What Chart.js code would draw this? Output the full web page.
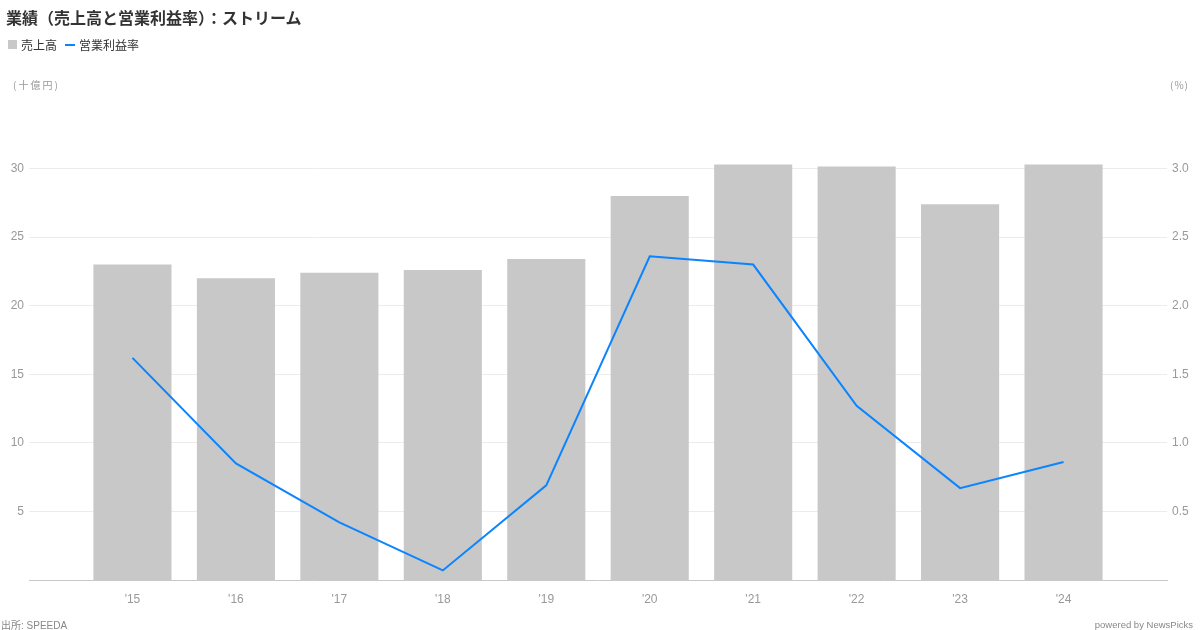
<!DOCTYPE html>
<html>
<head>
<meta charset="utf-8">
<script src="https://cdn.jsdelivr.net/npm/chart.js@4"></script>
<style>
  body { margin: 0; background: #fff; font-family: 'Noto Sans CJK JP', 'Noto Sans', sans-serif; }
  #wrap { position: relative; width: 1200px; height: 630px; overflow: hidden; }
  #chartBox { position: absolute; left: 0; top: 0; width: 1200px; height: 630px; }
  .txt { position: absolute; white-space: nowrap; }
  #title { left: 6px; top: 5px; font-size: 16px; font-weight: bold; color: #333; }
  #legend { left: 8px; top: 36px; font-size: 12px; color: #333; display: flex; align-items: center; }
  .sw-bar { display: inline-block; width: 9px; height: 9px; background: #c8c8c8; margin-right: 4px; }
  .sw-line { display: inline-block; width: 10px; height: 2px; background: #0a84ff; margin: 0 4px 0 8px; }
  .unit { top: 77px; font-size: 10px; color: #999; letter-spacing: 2px; }
  .foot { top: 617px; font-size: 10px; color: #888; font-family: 'Liberation Sans', 'Noto Sans CJK JP', sans-serif; }
</style>
</head>
<body>
<div id="wrap">
  <div id="chartBox"><canvas id="chart"></canvas></div>
  <div class="txt" id="title">業績（売上高と営業利益率）：ストリーム</div>
  <div class="txt" id="legend"><span class="sw-bar"></span>売上高<span class="sw-line"></span>営業利益率</div>
  <div class="txt unit" style="left:13px;">(十億円)</div>
  <div class="txt unit" style="left:1170px; letter-spacing:1px;">(%)</div>
  <div class="txt foot" style="left:1px;">出所: SPEEDA</div>
  <div class="txt foot" style="right:7px; top:619px; font-size:9.5px;">powered by NewsPicks</div>
</div>
<script>
const years = ["'15", "'16", "'17", "'18", "'19", "'20", "'21", "'22", "'23", "'24"];
const sales = [23.0, 22.0, 22.4, 22.6, 23.4, 28.0, 30.3, 30.15, 27.4, 30.3];
const margin = [1.62, 0.85, 0.42, 0.07, 0.69, 2.36, 2.30, 1.27, 0.67, 0.86];
const leftTicks = [5, 10, 15, 20, 25, 30];
const rightTicks = [0.5, 1.0, 1.5, 2.0, 2.5, 3.0];

// empty slot on each side so the bars sit inside like the original
const labels = [''].concat(years, ['']);
const pad = arr => [null].concat(arr, [null]);

Chart.defaults.font.family = "'Liberation Sans', 'Noto Sans', sans-serif";
Chart.defaults.color = '#999';

const ctx = document.getElementById('chart').getContext('2d');
new Chart(ctx, {
    data: {
        labels: labels,
        datasets: [
            {
                type: 'line',
                label: '営業利益率',
                data: pad(margin),
                yAxisID: 'y1',
                borderColor: '#0a84ff',
                borderWidth: 2,
                pointRadius: 0,
                tension: 0,
                order: 0
            },
            {
                type: 'bar',
                label: '売上高',
                data: pad(sales),
                yAxisID: 'y',
                backgroundColor: '#c8c8c8',
                categoryPercentage: 0.755,
                barPercentage: 1.0,
                order: 1
            }
        ]
    },
    options: {
        responsive: true,
        maintainAspectRatio: false,
        animation: false,
        layout: { padding: { top: 100, left: 0, right: 0, bottom: 0 } },
        plugins: {
            legend: { display: false },
            tooltip: { enabled: false }
        },
        scales: {
            x: {
                offset: false,
                grid: { display: false, drawTicks: false },
                border: { display: true, color: '#c8c8c8', width: 1 },
                ticks: { padding: 12, font: { size: 12 }, color: '#999', autoSkip: false, maxRotation: 0 },
                afterFit: s => { s.height = 50; }
            },
            y: {
                position: 'left',
                min: 0,
                max: 35,
                grid: { color: '#ececec', drawTicks: false },
                border: { display: false },
                ticks: { padding: 5, font: { size: 12 }, color: '#999' },
                afterBuildTicks: s => { s.ticks = leftTicks.map(v => ({ value: v })); },
                afterFit: s => { s.width = 29; }
            },
            y1: {
                position: 'right',
                min: 0,
                max: 3.5,
                grid: { display: false, drawTicks: false },
                border: { display: false },
                ticks: { padding: 5, font: { size: 12 }, color: '#999', callback: v => v.toFixed(1) },
                afterBuildTicks: s => { s.ticks = rightTicks.map(v => ({ value: v })); },
                afterFit: s => { s.width = 33; }
            }
        }
    }
});
</script>
</body>
</html>
